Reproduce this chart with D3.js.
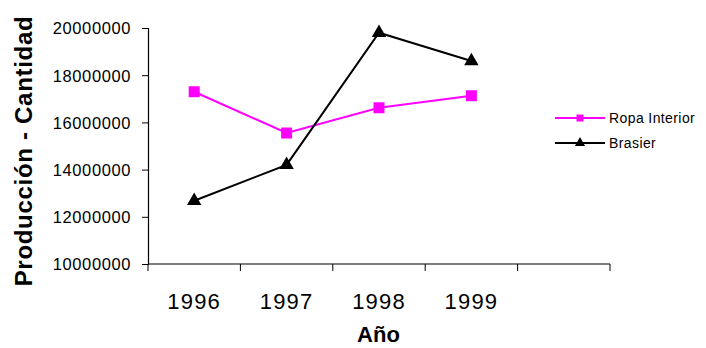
<!DOCTYPE html>
<html>
<head>
<meta charset="utf-8">
<script src="https://cdn.jsdelivr.net/npm/d3@7"></script>
<style>
  body { margin: 0; background: #fff; }
  svg text { font-family: "Liberation Sans", Arial, sans-serif; fill: #000; }
</style>
</head>
<body>
<div id="chart"></div>
<script>
var years = ['1996', '1997', '1998', '1999', ''];
var ropaInterior = [17300000, 15550000, 16620000, 17130000];
var brasier = [12680000, 14200000, 19800000, 18600000];
var yTicks = [10000000, 12000000, 14000000, 16000000, 18000000, 20000000];
var seriesNames = ['Ropa Interior', 'Brasier'];
var seriesColors = ['#ff00ff', '#000000'];

var W = 706, H = 348;
var plotL = 148, plotR = 610, plotT = 28, plotB = 264;

var svg = d3.select('#chart').append('svg')
  .attr('width', W)
  .attr('height', H);

var x = d3.scaleBand()
  .domain(years)
  .range([plotL, plotR]);

var y = d3.scaleLinear()
  .domain([10000000, 20000000])
  .range([plotB, plotT]);

// y axis
var yAxis = svg.append('g')
  .attr('transform', 'translate(' + plotL + ',0)')
  .call(d3.axisLeft(y).tickValues(yTicks).tickFormat(d3.format('d')).tickSize(6).tickPadding(11));
yAxis.select('.domain').attr('stroke', '#000').attr('stroke-width', 1.2);
yAxis.selectAll('.tick line').attr('stroke', '#000');
yAxis.selectAll('.tick text')
  .style('font-size', '16.5px')
  .style('letter-spacing', '0.6px')
  .attr('dy', '0.36em');

// x axis: ticks at band edges
var xAxis = svg.append('g')
  .attr('transform', 'translate(0,' + plotB + ')');
xAxis.append('line')
  .attr('x1', plotL).attr('x2', plotR)
  .attr('stroke', '#000').attr('stroke-width', 1.2);
var edges = years.map(function (d) { return x(d); }).concat([plotR]);
xAxis.selectAll('line.tk').data(edges).enter().append('line')
  .attr('class', 'tk')
  .attr('x1', function (d) { return d; }).attr('x2', function (d) { return d; })
  .attr('y1', 0).attr('y2', 7)
  .attr('stroke', '#000');
xAxis.selectAll('text').data(years.filter(function (d) { return d; })).enter().append('text')
  .attr('x', function (d) { return x(d) + x.bandwidth() / 2; })
  .attr('y', 45)
  .attr('text-anchor', 'middle')
  .style('font-size', '22px')
  .style('letter-spacing', '1.2px')
  .text(function (d) { return d; });

// axis titles
svg.append('text')
  .attr('x', 378.5).attr('y', 342)
  .attr('text-anchor', 'middle')
  .style('font-size', '22px').style('font-weight', 'bold')
  .text('Año');
svg.append('text')
  .attr('transform', 'translate(32,151) rotate(-90)')
  .attr('text-anchor', 'middle')
  .style('font-size', '24px').style('font-weight', 'bold')
  .style('letter-spacing', '0.7px')
  .text('Producción - Cantidad');

var cx = function (d, i) { return x(years[i]) + x.bandwidth() / 2; };
var line = d3.line()
  .x(cx)
  .y(function (d) { return y(d); });

var sq = d3.symbol().type(d3.symbolSquare).size(121);
var tri = d3.symbol().type(d3.symbolTriangle).size(90);

function drawSeries(vals, color, sym) {
  svg.append('path').datum(vals)
    .attr('d', line)
    .attr('fill', 'none')
    .attr('stroke', color)
    .attr('stroke-width', 2);
  svg.selectAll(null).data(vals).enter().append('path')
    .attr('d', sym)
    .attr('transform', function (d, i) { return 'translate(' + cx(d, i) + ',' + y(d) + ')'; })
    .attr('fill', color);
}
drawSeries(ropaInterior, seriesColors[0], sq);
drawSeries(brasier, seriesColors[1], tri);

// legend
var legend = svg.append('g');
var lsym = [d3.symbol().type(d3.symbolSquare).size(49), d3.symbol().type(d3.symbolTriangle).size(45)];
seriesNames.forEach(function (name, i) {
  var ly = 118 + i * 25;
  legend.append('line')
    .attr('x1', 555).attr('x2', 605).attr('y1', ly).attr('y2', ly)
    .attr('stroke', seriesColors[i]).attr('stroke-width', 2);
  legend.append('path')
    .attr('d', lsym[i])
    .attr('transform', 'translate(580,' + ly + ')')
    .attr('fill', seriesColors[i]);
  legend.append('text')
    .attr('x', 609).attr('y', ly + 5)
    .style('font-size', '14px')
    .style('letter-spacing', '0.4px')
    .text(name);
});
</script>
</body>
</html>
